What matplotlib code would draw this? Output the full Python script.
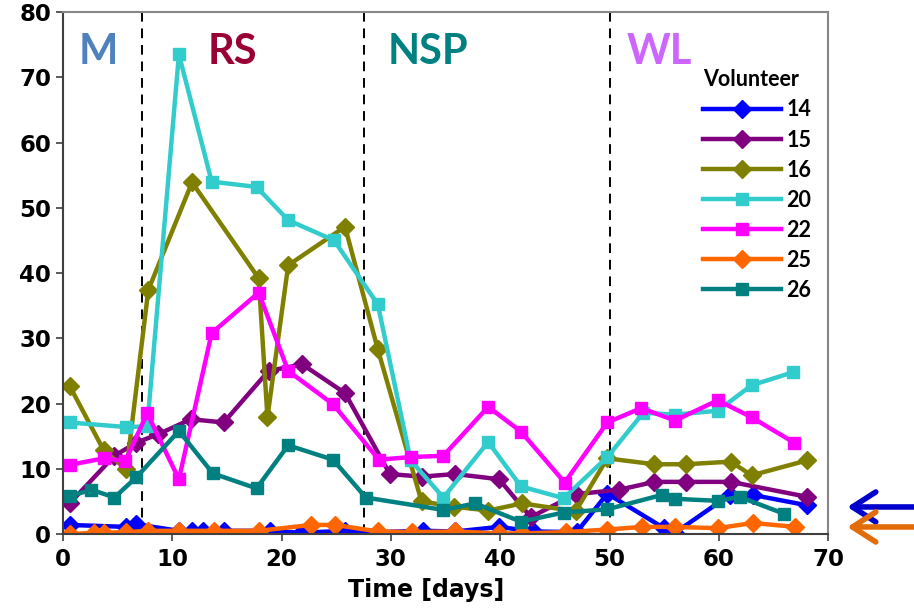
import matplotlib
matplotlib.use("Agg")
import matplotlib.pyplot as plt

plt.rcParams['font.family'] = ['DejaVu Sans']
plt.rcParams['font.weight'] = 'bold'

# Time points (days) and values per volunteer
days_14 = [0.6, 5.8, 6.7, 10.6, 11.8, 12.8, 14.7, 18.9, 21.8, 25.8, 28.8, 32.9, 35.9,
           39.9, 43.0, 47.0, 49.8, 55.0, 56.0, 61.0, 63.1, 68.1]
vals_14 = [1.4, 1.1, 1.5, 0.5, 0.5, 0.5, 0.5, 0.5, 0.2, 0.5, 0.3, 0.5, 0.4,
           1.1, 0.4, 0.3, 6.2, 0.9, 0.2, 6.0, 6.0, 4.4]

days_15 = [0.6, 4.7, 6.7, 8.7, 11.7, 14.7, 18.8, 21.9, 25.8, 29.9, 32.8, 35.9, 39.9,
           42.8, 46.9, 50.9, 54.1, 57.0, 61.1, 68.1]
vals_15 = [4.7, 12.0, 14.0, 15.3, 17.6, 17.1, 25.0, 26.0, 21.6, 9.2, 8.8, 9.2, 8.4,
           2.6, 6.1, 6.8, 8.0, 8.0, 8.0, 5.7]

days_16 = [0.6, 3.7, 5.8, 7.8, 11.8, 17.9, 18.7, 20.6, 25.8, 28.8, 32.8, 35.8, 38.9,
           42.0, 46.9, 49.8, 54.1, 57.0, 61.1, 63.0, 68.1]
vals_16 = [22.7, 12.9, 9.9, 37.4, 53.9, 39.2, 17.9, 41.2, 47.1, 28.3, 5.0, 4.2, 3.6,
           4.7, 3.5, 11.6, 10.7, 10.7, 11.1, 9.0, 11.3]

days_20 = [0.6, 5.8, 7.7, 10.6, 13.6, 17.7, 20.6, 24.8, 28.8, 31.8, 34.8, 38.9, 41.9,
           45.8, 49.8, 53.1, 56.0, 59.9, 63.0, 66.8]
vals_20 = [17.1, 16.4, 16.5, 73.5, 54.0, 53.2, 48.1, 45.0, 35.2, 11.3, 5.6, 14.1, 7.3,
           5.5, 11.8, 18.6, 18.3, 18.9, 22.8, 24.8]

days_22 = [0.6, 3.7, 5.7, 7.7, 10.6, 13.6, 17.9, 20.6, 24.7, 28.9, 31.8, 34.8, 38.9,
           41.9, 45.9, 49.8, 52.9, 56.0, 59.9, 63.0, 66.9]
vals_22 = [10.6, 11.6, 11.2, 18.5, 8.4, 30.8, 37.0, 25.0, 19.9, 11.4, 11.8, 12.0, 19.5,
           15.7, 7.9, 17.1, 19.3, 17.4, 20.5, 17.9, 14.0]

days_25 = [0.6, 2.8, 3.7, 5.8, 7.8, 10.6, 13.8, 17.9, 22.7, 24.9, 28.8, 31.9, 35.9,
           39.9, 42.0, 46.0, 49.8, 53.0, 56.0, 59.9, 63.1, 67.0]
vals_25 = [0.0, 0.2, 0.2, 0.3, 0.5, 0.5, 0.5, 0.5, 1.4, 1.4, 0.4, 0.3, 0.4,
           0.1, 0.1, 0.3, 0.7, 1.1, 1.1, 0.9, 1.7, 1.1]

days_26 = [0.6, 2.6, 4.7, 6.7, 10.6, 13.7, 17.7, 20.6, 24.7, 27.7, 34.8, 37.7, 41.9,
           45.8, 49.8, 54.8, 56.0, 59.9, 61.9, 66.0]
vals_26 = [5.8, 6.8, 5.6, 8.7, 15.8, 9.3, 7.0, 13.6, 11.4, 5.6, 3.7, 4.7, 1.9,
           3.3, 3.8, 6.0, 5.4, 5.1, 5.7, 3.1]

volunteers = ['14', '15', '16', '20', '22', '25', '26']
series_days = [days_14, days_15, days_16, days_20, days_22, days_25, days_26]
series_vals = [vals_14, vals_15, vals_16, vals_20, vals_22, vals_25, vals_26]
colors = ['#0000FF', '#800080', '#808000', '#33CCCC', '#FF00FF', '#FF6600', '#008080']
markers = ['D', 'D', 'D', 's', 's', 'D', 's']

phase_bounds = [7.2, 27.5, 50.0]
phase_names = ['M', 'RS', 'NSP', 'WL']
phase_x = [3.2, 15.5, 33.4, 54.6]
phase_colors = ['#4F81BD', '#990033', '#008080', '#CC66FF']

fig = plt.figure(figsize=(9.14, 6.16), dpi=100)
ax = fig.add_axes([0.069, 0.133, 0.837, 0.8475])

for d, v, c, m, name in zip(series_days, series_vals, colors, markers, volunteers):
    ms = 9.5 if m == 'D' else 8
    ax.plot(d, v, color=c, lw=3.2, marker=m, ms=ms, mfc=c, mec=c, mew=1,
            label=name, solid_joinstyle='round')

for xb in phase_bounds:
    ax.axvline(xb, color='black', lw=1.4, ls=(0, (5, 3.5)), zorder=0)

for name, xp, pc in zip(phase_names, phase_x, phase_colors):
    ax.text(xp, 73.8, name, color=pc, fontsize=30, fontweight='bold',
            ha='center', va='center', family=['Lato', 'DejaVu Sans'])

ax.set_xlim(0, 70)
ax.set_ylim(0, 80)
ax.set_xticks(range(0, 71, 10))
ax.set_yticks(range(0, 81, 10))
ax.tick_params(axis='both', labelsize=16.5, width=1.2, length=5, direction='out',
               colors='#404040', labelcolor='black')
ax.tick_params(axis='x', pad=5)
for lbl in ax.get_xticklabels() + ax.get_yticklabels():
    lbl.set_fontweight('bold')
ax.set_xlabel('Time [days]', fontsize=17, fontweight='bold', labelpad=12)
ax.xaxis.set_label_coords(0.475, -0.085)

for side in ('top', 'right'):
    ax.spines[side].set_color('#888888')
    ax.spines[side].set_linewidth(1.5)
for side in ('left', 'bottom'):
    ax.spines[side].set_color('#404040')
    ax.spines[side].set_linewidth(1.5)

leg = ax.legend(title='Volunteer', loc='upper left', bbox_to_anchor=(0.837, 0.89),
                frameon=False, handlelength=3.6, labelspacing=0.42,
                handletextpad=0.25, borderaxespad=0.0, borderpad=0.0,
                prop={'family': ['Lato', 'DejaVu Sans'], 'weight': 'bold', 'size': 15.5},
                title_fontproperties={'family': ['Lato', 'DejaVu Sans'],
                                      'weight': 'bold', 'size': 15.5})
leg._legend_box.align = 'left'

# Level markers at the right edge
for yf, ac in [(0.177, '#0000CC'), (0.1445, '#E36C0A')]:
    fig.add_artist(matplotlib.patches.FancyArrowPatch(
        (1.01, yf), (0.924, yf), transform=fig.transFigure,
        arrowstyle='->,head_length=1.4,head_width=0.9', color=ac, lw=4,
        mutation_scale=12, capstyle='round', joinstyle='round'))

fig.savefig('out.png', dpi=100)
